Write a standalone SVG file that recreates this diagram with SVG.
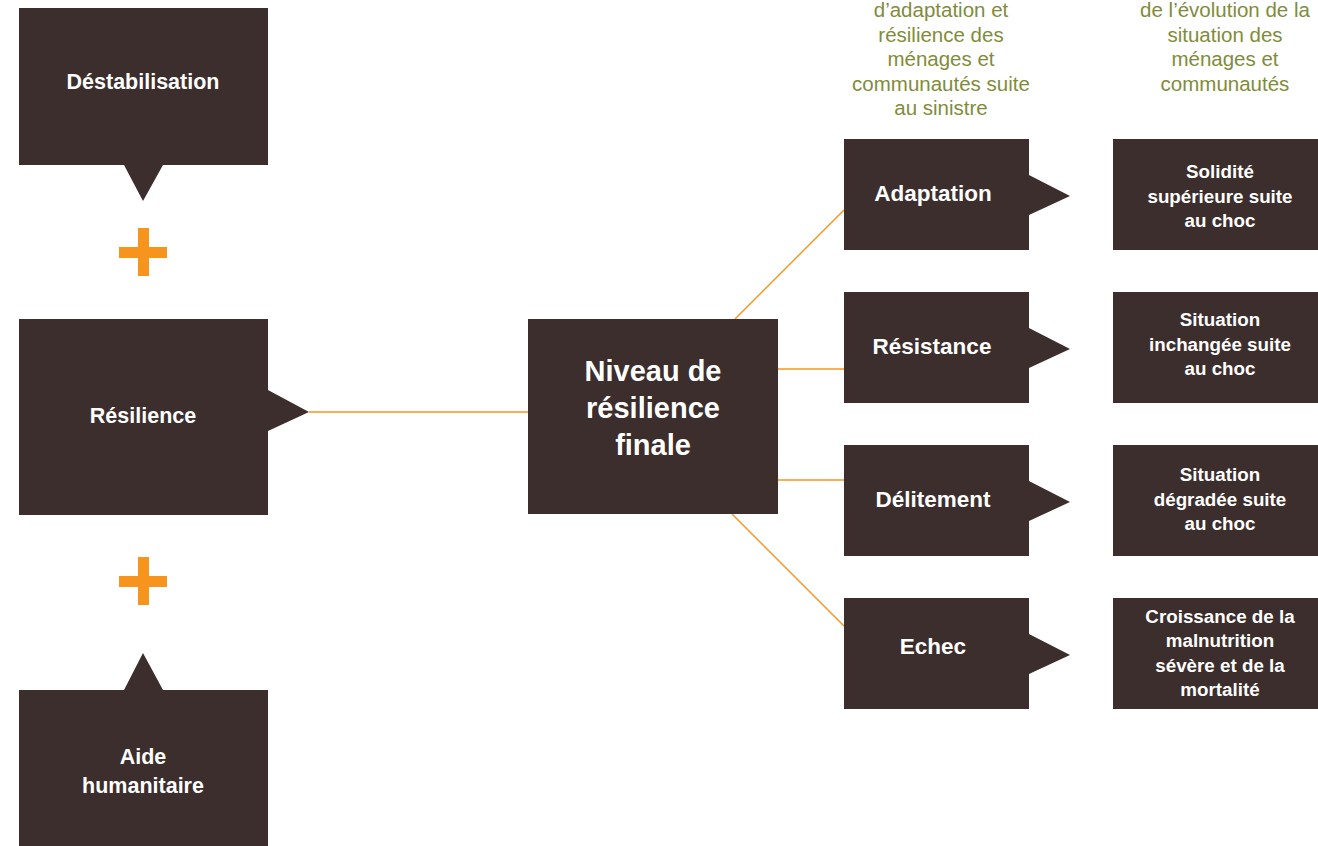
<svg xmlns="http://www.w3.org/2000/svg" width="1318" height="846" viewBox="0 0 1318 846">
  <style>
    .box { fill: #3c2e2c; }
    .lbl { font-family: "Liberation Sans", Arial, sans-serif; font-weight: bold; fill: #ffffff; text-anchor: middle; }
    .l21 { font-size: 21.5px; }
    .l22 { font-size: 22.5px; }
    .l29 { font-size: 29px; }
    .l18 { font-size: 18.8px; }
    .hdr { font-family: "Liberation Sans", Arial, sans-serif; font-size: 20.5px; fill: #7f8c3a; text-anchor: middle; }
    .plus { fill: #f7941d; }
    .conn { stroke: #f7941d; stroke-width: 1.4; fill: none; }
  </style>
  <rect width="1318" height="846" fill="#ffffff"/>

  <!-- column headings -->
  <g id="header-mechanisms">
    <text class="hdr" x="941" y="17">d’adaptation et</text>
    <text class="hdr" x="941" y="41.5">résilience des</text>
    <text class="hdr" x="941" y="66">ménages et</text>
    <text class="hdr" x="941" y="90.5">communautés suite</text>
    <text class="hdr" x="941" y="115">au sinistre</text>
  </g>
  <g id="header-evolution">
    <text class="hdr" x="1225" y="17">de l’évolution de la</text>
    <text class="hdr" x="1225" y="41.5">situation des</text>
    <text class="hdr" x="1225" y="66">ménages et</text>
    <text class="hdr" x="1225" y="90.5">communautés</text>
  </g>

  <!-- connectors -->
  <g id="connectors">
    <line class="conn" x1="309" y1="412" x2="528" y2="412"/>
    <line class="conn" x1="735" y1="319" x2="844" y2="210"/>
    <line class="conn" x1="778" y1="369" x2="844" y2="369"/>
    <line class="conn" x1="778" y1="480" x2="844" y2="480"/>
    <line class="conn" x1="732" y1="514" x2="844" y2="626"/>
  </g>

  <!-- left column -->
  <g id="destabilisation">
    <path class="box" d="M19,8 H268 V165 H163 L143,201 L124,165 H19 Z"/>
    <text class="lbl l21" x="143" y="89">Déstabilisation</text>
  </g>
  <g id="plus-1">
    <rect class="plus" x="138" y="228" width="11" height="48"/>
    <rect class="plus" x="119" y="247" width="48" height="11"/>
  </g>
  <g id="resilience">
    <path class="box" d="M19,319 H268 V390 L309,412 L268,431 V515 H19 Z"/>
    <text class="lbl l21" x="143" y="423">Résilience</text>
  </g>
  <g id="plus-2">
    <rect class="plus" x="138" y="557" width="11" height="48"/>
    <rect class="plus" x="119" y="576" width="48" height="11"/>
  </g>
  <g id="aide-humanitaire">
    <path class="box" d="M19,690 H124 L143,653 L163,690 H268 V846 H19 Z"/>
    <text class="lbl l21" x="143" y="764">Aide</text>
    <text class="lbl l21" x="143" y="793">humanitaire</text>
  </g>

  <!-- central node -->
  <g id="niveau-resilience">
    <rect class="box" x="528" y="319" width="250" height="195"/>
    <text class="lbl l29" x="653" y="381">Niveau de</text>
    <text class="lbl l29" x="653" y="418">résilience</text>
    <text class="lbl l29" x="653" y="455">finale</text>
  </g>

  <!-- outcome levels -->
  <g id="adaptation">
    <path class="box" d="M844,139 H1029 V175 L1070,196 L1029,215 V250 H844 Z"/>
    <text class="lbl l22" x="933" y="201">Adaptation</text>
  </g>
  <g id="resistance">
    <path class="box" d="M844,292 H1029 V328 L1070,349 L1029,368 V403 H844 Z"/>
    <text class="lbl l22" x="932" y="354">Résistance</text>
  </g>
  <g id="delitement">
    <path class="box" d="M844,445 H1029 V481 L1070,502 L1029,521 V556 H844 Z"/>
    <text class="lbl l22" x="933" y="507">Délitement</text>
  </g>
  <g id="echec">
    <path class="box" d="M844,598 H1029 V634 L1070,655 L1029,674 V709 H844 Z"/>
    <text class="lbl l22" x="933" y="654">Echec</text>
  </g>

  <!-- resulting situations -->
  <g id="solidite">
    <rect class="box" x="1113" y="139" width="205" height="111"/>
    <text class="lbl l18" x="1220" y="178">Solidité</text>
    <text class="lbl l18" x="1220" y="203">supérieure suite</text>
    <text class="lbl l18" x="1220" y="227">au choc</text>
  </g>
  <g id="situation-inchangee">
    <rect class="box" x="1113" y="292" width="205" height="111"/>
    <text class="lbl l18" x="1220" y="326">Situation</text>
    <text class="lbl l18" x="1220" y="351">inchangée suite</text>
    <text class="lbl l18" x="1220" y="375">au choc</text>
  </g>
  <g id="situation-degradee">
    <rect class="box" x="1113" y="445" width="205" height="111"/>
    <text class="lbl l18" x="1220" y="481">Situation</text>
    <text class="lbl l18" x="1220" y="506">dégradée suite</text>
    <text class="lbl l18" x="1220" y="530">au choc</text>
  </g>
  <g id="croissance-malnutrition">
    <rect class="box" x="1113" y="598" width="205" height="111"/>
    <text class="lbl l18" x="1220" y="623">Croissance de la</text>
    <text class="lbl l18" x="1220" y="647">malnutrition</text>
    <text class="lbl l18" x="1220" y="672">sévère et de la</text>
    <text class="lbl l18" x="1220" y="696">mortalité</text>
  </g>
</svg>
